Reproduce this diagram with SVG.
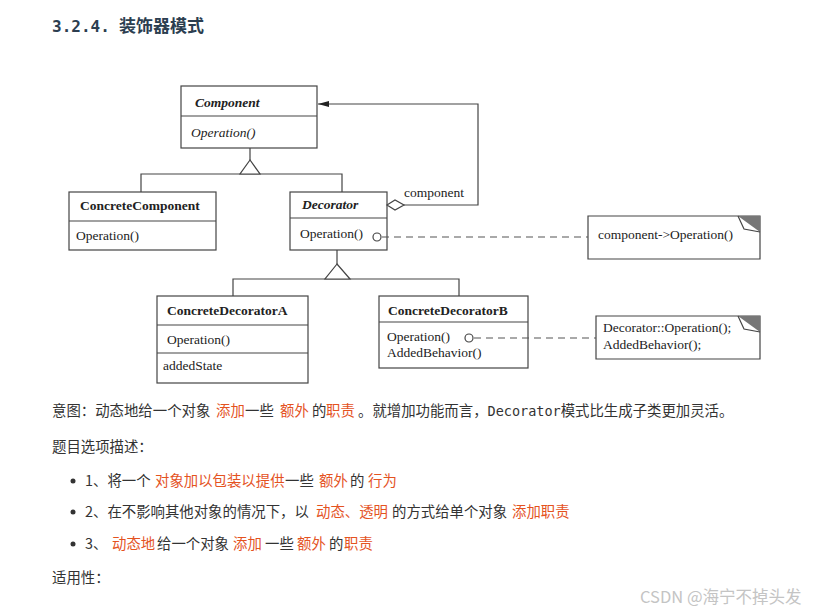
<svg xmlns="http://www.w3.org/2000/svg" width="815" height="613" viewBox="0 0 815 613">
<style>
.box{fill:#fff;stroke:#444;stroke-width:1.2}
.ln{fill:none;stroke:#444;stroke-width:1.2}
.dash{fill:none;stroke:#555;stroke-width:1.2;stroke-dasharray:7,5}
.u{font-family:"Liberation Serif",serif;font-size:13.5px;fill:#222}
.b{font-weight:bold}
.i{font-style:italic}
.t{font-family:"Noto Sans CJK SC","Noto Sans",sans-serif;font-size:14.4px;fill:#333}
.r{fill:#e4531f}
.m{font-family:"DejaVu Sans Mono","Liberation Mono",monospace;font-size:13.5px}
</style>
<defs>
<marker id="fill" markerWidth="12" markerHeight="8" refX="11" refY="4" orient="auto" markerUnits="userSpaceOnUse">
<path d="M0,1 L11,4 L0,7 Z" fill="#222"/>
</marker>
</defs>
<rect width="815" height="613" fill="#fff"/>
<text y="32" font-size="16" font-weight="bold" fill="#2c3e50"><tspan x="52" font-family="'DejaVu Sans Mono',monospace">3.2.4.</tspan><tspan x="119" font-size="17" font-family="'Noto Sans CJK SC',sans-serif">装饰器模式</tspan></text>

<g id="Component">
<rect class="box" x="181" y="86" width="136" height="62"/>
<line class="ln" x1="181" y1="116" x2="317" y2="116"/>
<text class="u b i" x="195" y="107">Component</text>
<text class="u i" x="191" y="137">Operation()</text>
</g>
<g id="ConcreteComponent">
<rect class="box" x="69" y="192" width="147" height="58"/>
<line class="ln" x1="69" y1="221" x2="216" y2="221"/>
<text class="u b" x="80" y="210">ConcreteComponent</text>
<text class="u" x="76" y="240">Operation()</text>
</g>
<g id="Decorator">
<rect class="box" x="290" y="192" width="97" height="58"/>
<line class="ln" x1="290" y1="218" x2="387" y2="218"/>
<text class="u b i" x="302" y="209">Decorator</text>
<text class="u" x="300" y="238">Operation()</text>
</g>
<g id="Note1">
<path class="box" d="M588,216 H760 V259 H588 Z"/>
<path d="M738,216 H760 V232 Z" fill="#777"/>
<path class="ln" d="M738,216 L744,229 L760,232"/>
<text class="u" x="598" y="239">component-&gt;Operation()</text>
</g>
<g id="ConcreteDecoratorA">
<rect class="box" x="157" y="296" width="151" height="87"/>
<line class="ln" x1="157" y1="325" x2="308" y2="325"/>
<line class="ln" x1="157" y1="353" x2="308" y2="353"/>
<text class="u b" x="167" y="315">ConcreteDecoratorA</text>
<text class="u" x="167" y="344">Operation()</text>
<text class="u" x="163" y="370">addedState</text>
</g>
<g id="ConcreteDecoratorB">
<rect class="box" x="379" y="296" width="149" height="72"/>
<line class="ln" x1="379" y1="322" x2="528" y2="322"/>
<text class="u b" x="388" y="315">ConcreteDecoratorB</text>
<text class="u" x="387" y="341">Operation()</text>
<text class="u" x="387" y="357">AddedBehavior()</text>
</g>
<g id="Note2">
<path class="box" d="M596,316 H760 V359 H596 Z"/>
<path d="M738,316 H760 V332 Z" fill="#777"/>
<path class="ln" d="M738,316 L744,329 L760,332"/>
<text class="u" x="603" y="332">Decorator::Operation();</text>
<text class="u" x="603" y="349">AddedBehavior();</text>
</g>

<g id="connectors">
<path class="ln" d="M250,148 V160 M141,192 V174 H342 V192"/>
<path class="box" d="M250,160 L240,174 L260,174 Z"/>
<path class="ln" d="M337,250 V264 M233,296 V279 H459 V296"/>
<path class="box" d="M337,264 L325,279 L350,279 Z"/>
<path class="ln" d="M404,205 H478 V104 H318" marker-end="url(#fill)"/>
<path class="box" d="M387,205 L395,200 L404,205 L395,210 Z"/>
<text class="u" x="404" y="197">component</text>
<circle class="box" cx="377" cy="237" r="4"/>
<path class="dash" d="M382,237 H588"/>
<circle class="box" cx="469" cy="338" r="4"/>
<path class="dash" d="M474,338 H596"/>
</g>

<g id="text">
<text class="t" y="416"><tspan x="52">意图：动态地给一个对象</tspan><tspan class="r" x="216">添加</tspan><tspan x="245">一些</tspan><tspan class="r" x="280">额外</tspan><tspan x="312">的</tspan><tspan class="r" x="326">职责</tspan><tspan x="358">。就增加功能而言，</tspan><tspan class="m">Decorator</tspan><tspan>模式比生成子类更加灵活。</tspan></text>
<text class="t" x="52" y="452">题目选项描述：</text>
<circle cx="73" cy="481" r="2.5" fill="#333"/>
<circle cx="73" cy="512" r="2.5" fill="#333"/>
<circle cx="73" cy="544" r="2.5" fill="#333"/>
<text class="t" y="486"><tspan x="85">1、将一个</tspan><tspan class="r" x="155">对象加以包装以提供</tspan><tspan x="285">一些</tspan><tspan class="r" x="319">额外</tspan><tspan x="350">的</tspan><tspan class="r" x="368">行为</tspan></text>
<text class="t" y="517"><tspan x="85">2、在不影响其他对象的情况下，以</tspan><tspan class="r" x="316">动态、透明</tspan><tspan x="392">的方式给单个对象</tspan><tspan class="r" x="512">添加职责</tspan></text>
<text class="t" y="549"><tspan x="85">3、</tspan><tspan class="r" x="112">动态地</tspan><tspan x="157">给一个对象</tspan><tspan class="r" x="233">添加</tspan><tspan x="265">一些</tspan><tspan class="r" x="297">额外</tspan><tspan x="329">的</tspan><tspan class="r" x="344">职责</tspan></text>
<text class="t" x="52" y="583">适用性：</text>
<text x="640" y="603" font-family="'Noto Sans CJK SC',sans-serif" font-size="16.5" fill="#c4c4c4">CSDN @海宁不掉头发</text>
</g>
</svg>
